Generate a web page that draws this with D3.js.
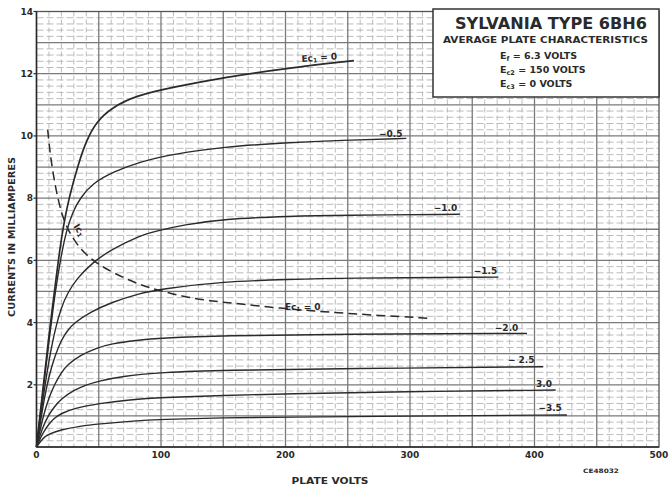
<!DOCTYPE html>
<html><head><meta charset="utf-8">
<script src="https://cdn.jsdelivr.net/npm/d3@7"></script>
<style>
html,body{margin:0;padding:0;background:#fff;}
svg{display:block;font-family:"DejaVu Sans",sans-serif;font-weight:bold;}
</style></head>
<body><svg id="c" width="670" height="487"></svg>
<script>
// ---- data (plate volts, milliamperes) ----
const xTicks = [0,100,200,300,400,500];
const yTicks = [2,4,6,8,10,12,14];
const ec1_0   = [[0,0],[5,1.8],[10,3.6],[13.5,4.7],[17.5,6.0],[21.5,7.1],[26,8.0],[33.6,9.1],[40,9.85],[48,10.45],[60,10.9],[80,11.3],[110,11.57],[150,11.88],[200,12.17],[255,12.42]];
const ec1_05  = [[0,0],[5,1.7],[10,3.4],[15,5.0],[20,6.2],[24,6.95],[29,7.55],[35,8.0],[45,8.48],[62,8.85],[83,9.17],[110,9.42],[150,9.65],[200,9.78],[244,9.86],[297,9.92]];
const ec1_10  = [[0,0],[5,1.5],[10,2.8],[15,3.8],[20,4.5],[25,4.95],[32,5.4],[45,5.93],[60,6.35],[83,6.8],[97,6.95],[118,7.14],[150,7.33],[204,7.42],[244,7.45],[340,7.48]];
const ec1_15  = [[0,0],[5,1.3],[10,2.3],[15,2.95],[20,3.45],[25,3.75],[30,3.98],[43,4.33],[60,4.65],[83,4.94],[100,5.08],[150,5.32],[204,5.39],[244,5.43],[371,5.46]];
const ec1_20  = [[0,0],[5,0.95],[10,1.6],[15,2.05],[20,2.4],[25,2.65],[35,2.95],[48,3.18],[60,3.32],[80,3.43],[100,3.5],[150,3.58],[244,3.63],[394,3.65]];
const ec1_25  = [[0,0],[5,0.65],[10,1.05],[15,1.33],[20,1.55],[30,1.83],[40,2.0],[50,2.12],[70,2.28],[100,2.4],[150,2.47],[250,2.52],[407,2.58]];
const ec1_30  = [[0,0],[5,0.45],[10,0.75],[15,0.95],[20,1.08],[30,1.24],[50,1.4],[75,1.52],[100,1.59],[150,1.66],[200,1.71],[292,1.78],[417,1.83]];
const ec1_35  = [[0,0],[5,0.28],[10,0.42],[20,0.56],[35,0.67],[50,0.74],[75,0.83],[100,0.89],[150,0.94],[200,0.96],[292,0.99],[426,1.03]];
const ic1     = [[9,10.2],[10.8,9.45],[15,8.37],[20,7.5],[25.5,6.95],[35,6.35],[48,5.91],[62,5.59],[83,5.21],[97,5.05],[118,4.83],[139,4.7],[163,4.6],[196,4.46],[230,4.35],[270,4.24],[315,4.14]];
const plateCurves = [ec1_0, ec1_05, ec1_10, ec1_15, ec1_20, ec1_25, ec1_30, ec1_35];
const curveLabels = ["−0.5","−1.0","−1.5","−2.0","− 2.5","3.0","−3.5"];
const curveLabelAt = [[294,9.98],[338,7.6],[370,5.57],[387,3.73],[400,2.7],[414,1.93],[422,1.16]];

// ---- layout ----
const svg = d3.select("#c");
const x = d3.scaleLinear().domain([0,500]).range([36.5,659]);
const y = d3.scaleLinear().domain([0,14]).range([447,11.5]);
const ink = "#2a2a2a";

svg.append("rect").attr("width",670).attr("height",487).attr("fill","#fff");

// grid
const g = svg.append("g");
const minorX = d3.range(10,500,10).filter(v=>v%50!==0);
const minorY = d3.range(0.2,14,0.2).filter(v=>Math.abs(v-Math.round(v))>0.01);
g.selectAll(".mx").data(minorX).join("line")
  .attr("x1",d=>x(d)).attr("x2",d=>x(d)).attr("y1",y(14)).attr("y2",y(0))
  .attr("stroke","#b4b4b4").attr("stroke-width",0.9).attr("stroke-dasharray","5,3");
g.selectAll(".my").data(minorY).join("line")
  .attr("x1",x(0)).attr("x2",x(500)).attr("y1",d=>y(d)).attr("y2",d=>y(d))
  .attr("stroke","#b4b4b4").attr("stroke-width",0.9).attr("stroke-dasharray","7,3");
g.selectAll(".Mx").data(d3.range(50,500,50)).join("line")
  .attr("x1",d=>x(d)).attr("x2",d=>x(d)).attr("y1",y(14)).attr("y2",y(0))
  .attr("stroke","#7a7a7a").attr("stroke-width",1.3);
g.selectAll(".My").data(d3.range(1,14,1)).join("line")
  .attr("x1",x(0)).attr("x2",x(500)).attr("y1",d=>y(d)).attr("y2",d=>y(d))
  .attr("stroke","#7a7a7a").attr("stroke-width",1.3);

// frame
svg.append("rect").attr("x",x(0)).attr("y",y(14)).attr("width",x(500)-x(0)).attr("height",y(0)-y(14))
  .attr("fill","none").attr("stroke","#555").attr("stroke-width",1.3);
svg.append("line").attr("x1",x(0)).attr("x2",x(0)).attr("y1",y(14)).attr("y2",y(0)).attr("stroke",ink).attr("stroke-width",1.5);
svg.append("line").attr("x1",x(0)).attr("x2",x(500)).attr("y1",y(0)).attr("y2",y(0)).attr("stroke",ink).attr("stroke-width",1.5);

// title box
svg.append("rect").attr("x",433).attr("y",9).attr("width",226).attr("height",88)
  .attr("fill","#fff").attr("stroke","#333").attr("stroke-width",1.5);
const bx = svg.append("g").attr("fill",ink);
bx.append("text").attr("x",551).attr("y",28.5).attr("text-anchor","middle").attr("font-size",15)
  .attr("textLength",192).attr("lengthAdjust","spacingAndGlyphs").text("SYLVANIA TYPE 6BH6");
bx.append("text").attr("x",545.5).attr("y",42.7).attr("text-anchor","middle").attr("font-size",9.5)
  .attr("textLength",205).attr("lengthAdjust","spacingAndGlyphs").text("AVERAGE PLATE CHARACTERISTICS");
const boxLines = [["E","f"," = 6.3 VOLTS",59.3],["E","c2"," = 150 VOLTS",73.3],["E","c3"," = 0 VOLTS",87.3]];
boxLines.forEach(l=>{
  const t = bx.append("text").attr("x",500).attr("y",l[3]).attr("font-size",9.5);
  t.append("tspan").text(l[0]);
  t.append("tspan").attr("font-size",6.5).attr("dy",1.5).text(l[1]);
  t.append("tspan").attr("dy",-1.5).text(l[2]);
});

// axes labels
const ax = svg.append("g").attr("fill",ink).attr("font-size",9);
ax.selectAll(".xt").data(xTicks).join("text")
  .attr("x",d=>x(d)).attr("y",457.5).attr("text-anchor","middle").text(d=>d);
ax.selectAll(".yt").data(yTicks).join("text")
  .attr("x",33).attr("y",d=>y(d)+3.3).attr("text-anchor","end").text(d=>d);
svg.selectAll(".ytk").data(yTicks).join("line")
  .attr("x1",x(0)-3).attr("x2",x(0)).attr("y1",d=>y(d)).attr("y2",d=>y(d)).attr("stroke",ink).attr("stroke-width",1.2);
ax.append("text").attr("transform","translate(15,237) rotate(-90)").attr("text-anchor","middle")
  .attr("font-size",9.5).attr("textLength",160).attr("lengthAdjust","spacingAndGlyphs").text("CURRENTS IN MILLIAMPERES");
ax.append("text").attr("x",330).attr("y",484).attr("text-anchor","middle")
  .attr("font-size",9).attr("textLength",77).attr("lengthAdjust","spacingAndGlyphs").text("PLATE VOLTS");
ax.append("text").attr("x",601).attr("y",473).attr("text-anchor","middle")
  .attr("font-size",6).attr("textLength",36).attr("lengthAdjust","spacingAndGlyphs").text("CE48032");

// curves
const line = d3.line().x(d=>x(d[0])).y(d=>y(d[1])).curve(d3.curveBasis);
svg.append("g").selectAll("path").data(plateCurves).join("path")
  .attr("d",line).attr("fill","none").attr("stroke",ink).attr("stroke-width",(d,i)=>i===0?1.7:1.4);
svg.append("path").datum(ic1).attr("d",line).attr("fill","none").attr("stroke",ink)
  .attr("stroke-width",1.5).attr("stroke-dasharray","9,5");

// curve labels
const lb = svg.append("g").attr("fill",ink).attr("font-size",9);
lb.selectAll(".cl").data(curveLabels).join("text")
  .attr("x",(d,i)=>x(curveLabelAt[i][0])).attr("y",(d,i)=>y(curveLabelAt[i][1]))
  .attr("text-anchor","end").text(d=>d);
function subLabel(px,py,main,sub,rest,rot){
  const t = lb.append("text").attr("transform",`translate(${px},${py}) rotate(${rot})`);
  t.append("tspan").text(main);
  t.append("tspan").attr("font-size",6).attr("dy",1.5).text(sub);
  if(rest) t.append("tspan").attr("dy",-1.5).text(rest);
}
subLabel(x(213),y(12.38),"Ec","1"," = 0",-4);
subLabel(x(199.5),y(4.41),"Ec","1"," = 0",0);
subLabel(x(29.5),y(7.1),"Ic","1","",58);
</script></body></html>
